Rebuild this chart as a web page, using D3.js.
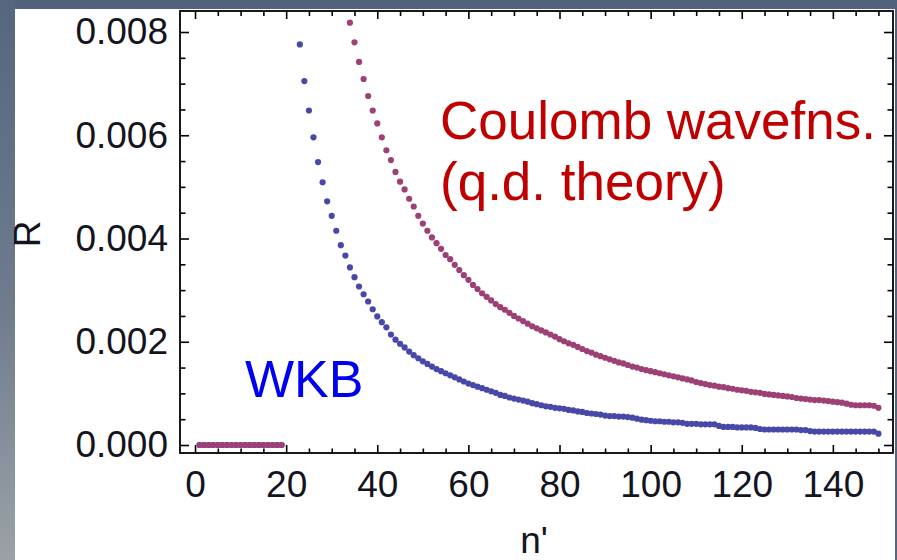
<!DOCTYPE html>
<html><head><meta charset="utf-8">
<script src="https://cdn.jsdelivr.net/npm/d3@7"></script>
<style>html,body{margin:0;padding:0;background:#5a6a82;}svg{display:block;}</style>
</head><body>
<svg id="chart" width="897" height="560"></svg>
<script>
// ---- data ----
const nStart = 1;           // first n' value in the arrays below
// null = point lies above the plotted range (clipped)
const wkb = [
 0,0,0,0,0,0,0,0,0,0,0,0,0,0,0,0,0,0,0,          // n' 1-19
 null,null,null,                                    // 20-22
 0.00776,0.00705,0.00648,0.00596,0.00548,0.00509,0.00472,0.00444,0.00415,0.00387, // 23-32
 0.00367,0.00344,0.00325,0.00307,0.00292,0.00278,0.00263,0.00249,0.00238,0.00228, // 33-42
 0.00214,0.00204,0.00196,0.00189,0.00181,0.00174,0.00168,0.00162,0.00157,0.00152, // 43-52
 0.00147,0.00143,0.00139,0.00135,0.00131,0.00127,0.00123,0.00119,0.00116,0.00113, // 53-62
 0.00110,0.00107,0.00104,0.00101,0.00097,0.00095,0.00092,0.00090,0.00088,0.00086, // 63-72
 0.00084,0.00081,0.00079,0.00077,0.00075,0.00074,0.00072,0.00071,0.00070,0.00068, // 73-82
 0.00067,0.00065,0.00064,0.00062,0.00061,0.00060,0.00059,0.00057,0.00056,0.00056, // 83-92
 0.00055,0.00055,0.00054,0.00053,0.00051,0.00049,0.00048,0.00047,0.00046,0.00046, // 93-102
 0.00045,0.00045,0.00044,0.00044,0.00043,0.00041,0.00041,0.00041,0.00040,0.00040, // 103-112
 0.00040,0.00040,0.00037,0.00035,0.00035,0.00035,0.00034,0.00034,0.00034,0.00034, // 113-122
 0.00033,0.00031,0.00030,0.00030,0.00030,0.00030,0.00030,0.00030,0.00030,0.00030, // 123-132
 0.00029,0.00029,0.00027,0.00026,0.00026,0.00026,0.00026,0.00026,0.00026,0.00026, // 133-142
 0.00026,0.00026,0.00026,0.00026,0.00026,0.00026,0.00026,0.00022                  // 143-150
];
const coulomb = [
 0,0,0,0,0,0,0,0,0,0,0,0,0,0,0,0,0,0,0,          // n' 1-19
 null,null,null,null,null,null,null,null,null,null,null,null,null,null, // 20-33
 0.00818,0.00780,0.00742,0.00709,0.00676,0.00648,0.00623,0.00596,0.00571,0.00552, // 34-43
 0.00529,0.00510,0.00495,0.00477,0.00462,0.00444,0.00429,0.00415,0.00402,0.00391, // 44-53
 0.00380,0.00368,0.00360,0.00349,0.00339,0.00329,0.00320,0.00310,0.00302,0.00294, // 54-63
 0.00287,0.00280,0.00273,0.00267,0.00262,0.00256,0.00250,0.00245,0.00240,0.00235, // 64-73
 0.00230,0.00226,0.00222,0.00218,0.00214,0.00210,0.00205,0.00201,0.00197,0.00194, // 74-83
 0.00190,0.00186,0.00182,0.00179,0.00175,0.00172,0.00169,0.00166,0.00163,0.00160, // 84-93
 0.00158,0.00155,0.00152,0.00150,0.00147,0.00145,0.00143,0.00141,0.00139,0.00137, // 94-103
 0.00135,0.00133,0.00131,0.00129,0.00127,0.00125,0.00122,0.00120,0.00118,0.00116, // 104-113
 0.00115,0.00113,0.00112,0.00110,0.00109,0.00107,0.00106,0.00105,0.00103,0.00102, // 114-123
 0.00101,0.00099,0.00098,0.00097,0.00096,0.00095,0.00094,0.00093,0.00091,0.00090, // 124-133
 0.00089,0.00088,0.00087,0.00087,0.00086,0.00085,0.00084,0.00083,0.00082,0.00080, // 134-143
 0.00078,0.00077,0.00077,0.00077,0.00077,0.00076,0.00072                          // 144-150
];
const xMajor = [0,20,40,60,80,100,120,140];
const yMajor = [0,0.002,0.004,0.006,0.008];
const seriesNames = ["WKB","Coulomb wavefns.","(q.d. theory)"];
const axisNames = {x:"n'", y:"R"};

// ---- drawing ----
const svg = d3.select("#chart");
const defs = svg.append("defs");
const g1 = defs.append("linearGradient").attr("id","bg").attr("x1",0).attr("y1",0).attr("x2",0).attr("y2",1);
g1.append("stop").attr("offset","0%").attr("stop-color","#52627c");
g1.append("stop").attr("offset","100%").attr("stop-color","#57667c");
const g2 = defs.append("linearGradient").attr("id","lf").attr("x1",0).attr("y1",0).attr("x2",0).attr("y2",1);
g2.append("stop").attr("offset","0%").attr("stop-color","#56667f");
g2.append("stop").attr("offset","55%").attr("stop-color","#6f7c8e");
g2.append("stop").attr("offset","100%").attr("stop-color","#9aa1a8");

svg.append("rect").attr("width",897).attr("height",560).attr("fill","url(#bg)");
svg.append("rect").attr("x",0).attr("y",0).attr("width",15).attr("height",560).attr("fill","url(#lf)");
svg.append("rect").attr("x",15).attr("y",9).attr("width",880).attr("height",551).attr("fill","#ffffff");

const x = d3.scaleLinear().domain([-3.3,153.2]).range([180,893]);
const y = d3.scaleLinear().domain([-0.000155,0.008407]).range([453,11]);

const xMinor = d3.range(0,151,5).filter(v=>!xMajor.includes(v));
const yMinor = d3.range(0,17).map(i=>i*0.0005).filter(v=>!yMajor.some(m=>Math.abs(m-v)<1e-9));

const tickFont = "'Liberation Sans', Arial, sans-serif";
function styleAxis(sel){
  sel.select(".domain").remove();
  sel.selectAll(".tick line").attr("stroke","#000").attr("stroke-width",1.6);
  sel.selectAll(".tick text").attr("fill","#14141e").style("font-family",tickFont).style("font-size","37px");
}
// bottom
svg.append("g").attr("transform","translate(0,453)")
  .call(d3.axisBottom(x).tickValues(xMajor).tickSizeInner(-8).tickSizeOuter(0).tickPadding(18).tickFormat(d3.format("d")))
  .call(styleAxis);
svg.append("g").attr("transform","translate(0,453)")
  .call(d3.axisBottom(x).tickValues(xMinor).tickSizeInner(-4.5).tickSizeOuter(0).tickFormat(""))
  .call(styleAxis);
// top
svg.append("g").attr("transform","translate(0,11)")
  .call(d3.axisTop(x).tickValues(xMajor).tickSizeInner(-8).tickSizeOuter(0).tickFormat(""))
  .call(styleAxis);
svg.append("g").attr("transform","translate(0,11)")
  .call(d3.axisTop(x).tickValues(xMinor).tickSizeInner(-5).tickSizeOuter(0).tickFormat(""))
  .call(styleAxis);
// left
svg.append("g").attr("transform","translate(180,0)")
  .call(d3.axisLeft(y).tickValues(yMajor).tickSizeInner(-9).tickSizeOuter(0).tickPadding(12).tickFormat(d3.format(".3f")))
  .call(styleAxis);
svg.append("g").attr("transform","translate(180,0)")
  .call(d3.axisLeft(y).tickValues(yMinor).tickSizeInner(-5.5).tickSizeOuter(0).tickFormat(""))
  .call(styleAxis);
// right
svg.append("g").attr("transform","translate(893,0)")
  .call(d3.axisRight(y).tickValues(yMajor).tickSizeInner(-9).tickSizeOuter(0).tickFormat(""))
  .call(styleAxis);
svg.append("g").attr("transform","translate(893,0)")
  .call(d3.axisRight(y).tickValues(yMinor).tickSizeInner(-5.5).tickSizeOuter(0).tickFormat(""))
  .call(styleAxis);

// frame
svg.append("rect").attr("x",180).attr("y",11).attr("width",713).attr("height",442)
  .attr("fill","none").attr("stroke","#000").attr("stroke-width",1.8);

// points
function drawSeries(vals, color){
  const pts = vals.map((v,i)=>({n:i+nStart, r:v})).filter(d=>d.r!==null);
  svg.append("g").selectAll("circle").data(pts).join("circle")
    .attr("cx",d=>x(d.n)).attr("cy",d=>y(d.r)).attr("r",3.1)
    .attr("fill",color);
}
drawSeries(wkb, "#4848a8");
drawSeries(coulomb, "#9c4076");

// annotations
const txtFont = "'Liberation Sans', Arial, sans-serif";
svg.append("text").attr("x",245).attr("y",397).attr("fill","#0000f0")
  .style("font-family",txtFont).style("font-size","52px").text(seriesNames[0]);
svg.append("text").attr("x",440).attr("y",139).attr("fill","#c00000")
  .style("font-family",txtFont).style("font-size","53px").text(seriesNames[1]);
svg.append("text").attr("x",440).attr("y",200).attr("fill","#c00000")
  .style("font-family",txtFont).style("font-size","53px").text(seriesNames[2]);

// axis titles
svg.append("text").attr("transform","translate(40,234) rotate(-90)").attr("text-anchor","middle")
  .attr("fill","#14141e").style("font-family",tickFont).style("font-size","37px").text(axisNames.y);
svg.append("text").attr("x",534).attr("y",553).attr("text-anchor","middle")
  .attr("fill","#14141e").style("font-family",tickFont).style("font-size","37px").text(axisNames.x);
</script>
</body></html>
